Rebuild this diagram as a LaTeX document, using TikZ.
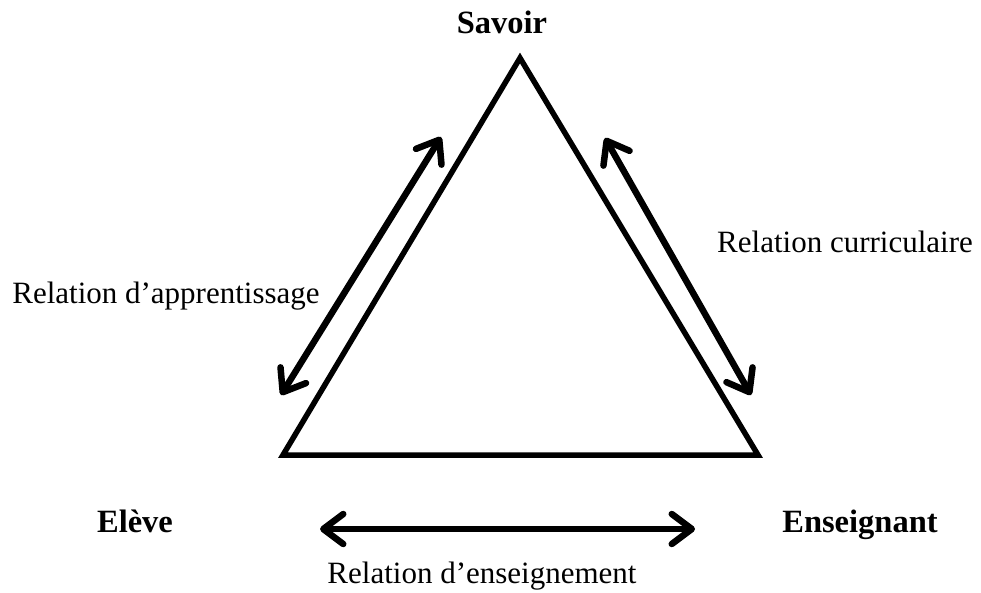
\documentclass[tikz,border=0pt]{standalone}
\usepackage{fontspec}
\setmainfont{Liberation Serif}
\usetikzlibrary{arrows.meta}
\begin{document}
\begin{tikzpicture}[x=1pt,y=-1pt,
  tri/.style={line width=5.5pt,line join=miter},
  rel/.style={line width=6.5pt,{Straight Barb[length=20pt,width=30pt,round]}-{Straight Barb[length=20pt,width=30pt,round]}},
  lbl/.style={anchor=base,inner sep=0pt,font=\fontsize{31}{37}\selectfont},
  vlbl/.style={anchor=base,inner sep=0pt,font=\fontsize{32.5}{38}\selectfont\bfseries}]
\useasboundingbox (0,0) rectangle (981,593);
\coordinate (S) at (520,58);
\coordinate (E) at (283,455);
\coordinate (T) at (758,455);
\draw[tri] (S) -- (E) -- (T) -- cycle;
\coordinate (a1) at (441,137);
\coordinate (a2) at (281,395);
\coordinate (b1) at (605,138);
\coordinate (b2) at (751,395);
\coordinate (c1) at (320,529);
\coordinate (c2) at (695,529);
\draw[rel] (a1) -- (a2);
\draw[rel] (b1) -- (b2);
\draw[rel] (c1) -- (c2);
\node[vlbl] (savoir) at (502,34) {Savoir};
\node[vlbl] (eleve) at (135,532) {Elève};
\node[vlbl] (ens) at (860,532) {Enseignant};
\node[lbl] (rapp) at (166,303) {Relation d’apprentissage};
\node[lbl] (rcur) at (845,253) {Relation curriculaire};
\node[lbl] (rens) at (482,583) {Relation d’enseignement};
\end{tikzpicture}
\end{document}
